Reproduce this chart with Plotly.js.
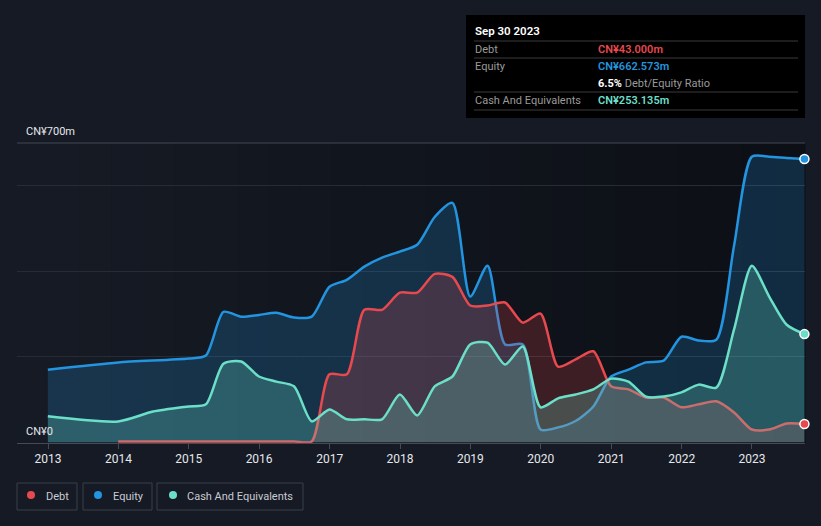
<!DOCTYPE html>
<html><head><meta charset="utf-8">
<script src="https://cdn.plot.ly/plotly-3.0.1.min.js"></script>
<style>html,body{margin:0;padding:0;background:#151a25;}#chart{width:821px;height:526px;}</style>
</head><body><div id="chart"></div><script>
// ---- data (CN¥ millions) ----
const equityDates = ['2012-12-31','2013-12-31','2014-12-31','2015-03-31','2015-06-30','2015-09-30','2015-12-31','2016-03-31','2016-06-30','2016-09-30','2016-12-31','2017-03-31','2017-06-30','2017-09-30','2017-12-31','2018-03-31','2018-06-30','2018-09-30','2018-12-31','2019-03-31','2019-06-30','2019-09-30','2019-12-31','2020-03-31','2020-06-30','2020-09-30','2020-12-31','2021-03-31','2021-06-30','2021-09-30','2021-12-31','2022-03-31','2022-06-30','2022-09-30','2022-12-31','2023-03-31','2023-06-30','2023-09-30'];
const equityValues = [170,187,196,203,305,294,298,303,292,294,364,380,411,432,446,462,527,560,341,413,229,229,30,35,50,84,154,170,187,191,247,238,240,460,668,668,665,662.573];

const debtDates = ['2013-12-31','2014-12-31','2015-12-31','2016-06-30','2016-09-30','2016-12-31','2017-03-31','2017-06-30','2017-09-30','2017-12-31','2018-03-31','2018-06-30','2018-09-30','2018-12-31','2019-03-31','2019-06-30','2019-09-30','2019-12-31','2020-03-31','2020-06-30','2020-09-30','2020-12-31','2021-03-31','2021-06-30','2021-09-30','2021-12-31','2022-03-31','2022-06-30','2022-09-30','2022-12-31','2023-03-31','2023-06-30','2023-09-30'];
const debtValues = [2,2,2,2,2,159,159,310,310,350,350,394,387,320,320,327,280,301,177,194,213,131,124,105,105,82,89,96,70,30,30,44,43];

const cashDates = ['2012-12-31','2013-12-31','2014-06-30','2014-12-31','2015-03-31','2015-06-30','2015-09-30','2015-12-31','2016-03-31','2016-06-30','2016-09-30','2016-12-31','2017-03-31','2017-06-30','2017-09-30','2017-12-31','2018-03-31','2018-06-30','2018-09-30','2018-12-31','2019-03-31','2019-06-30','2019-09-30','2019-12-31','2020-03-31','2020-06-30','2020-09-30','2020-12-31','2021-03-31','2021-06-30','2021-09-30','2021-12-31','2022-03-31','2022-06-30','2022-09-30','2022-12-31','2023-03-31','2023-06-30','2023-09-30'];
const cashValues = [61,49,72,84,89,184,189,154,142,131,49,77,54,54,54,112,63,131,154,229,233,182,224,82,103,112,124,149,142,107,107,117,135,128,264,413,341,275,253.135];

const seriesNames = ['Debt','Equity','Cash And Equivalents'];
const yTickLabels = ['CN¥0','CN¥700m'];
const tipTitle = 'Sep 30 2023';
const tipValues = ['CN¥43.000m','CN¥662.573m','6.5%','CN¥253.135m'];

// ---- styles ----
const C = {debt:'#e8494e', equity:'#2394df', cash:'#6cdfc9'};
const W = 821, H = 526, L = 17, R = 16, T = 143, B = 83;
const px = x => (x - L) / (W - L - R);
const py = y => (H - B - y) / (H - T - B);

function line(name, xs, ys, color, fill) {
  return {type:'scatter', mode:'lines', name, x:xs, y:ys,
    line:{color, width:2.5, shape:'spline', smoothing:0.7},
    fill:'tozeroy', fillcolor:fill, hoverinfo:'skip', showlegend:false};
}
function endDot(xs, ys, color) {
  return {type:'scatter', mode:'markers', x:[xs[xs.length-1]], y:[ys[ys.length-1]],
    marker:{color, size:9, line:{color:'#ffffff', width:1.5}}, cliponaxis:false,
    hoverinfo:'skip', showlegend:false};
}

const traces = [
  line(seriesNames[1], equityDates, equityValues, C.equity, 'rgba(35,148,223,0.22)'),
  line(seriesNames[0], debtDates, debtValues, C.debt, 'rgba(232,73,78,0.22)'),
  line(seriesNames[2], cashDates, cashValues, C.cash, 'rgba(108,223,201,0.25)'),
  endDot(equityDates, equityValues, C.equity),
  endDot(cashDates, cashValues, C.cash),
  endDot(debtDates, debtValues, C.debt)
];

const shapes = [];
// darkening gradient behind data span
const N = 24, x0 = 48, x1 = 805;
const c0 = [21,26,36], c1 = [12,15,21];
for (let i = 0; i < N; i++) {
  const t = i / (N - 1);
  const c = c0.map((v, k) => Math.round(v + (c1[k] - v) * t));
  shapes.push({type:'rect', xref:'paper', yref:'paper', layer:'below',
    x0:px(x0 + (x1 - x0) * i / N), x1:px(x0 + (x1 - x0) * (i + 1) / N + 0.5),
    y0:0, y1:1, line:{width:0}, fillcolor:`rgb(${c.join(',')})`});
}
// top 700 line
shapes.push({type:'line', xref:'paper', yref:'paper', x0:0, x1:1, y0:1, y1:1, line:{color:'#424852', width:1}});
// tooltip box
shapes.push({type:'rect', xref:'paper', yref:'paper', x0:px(466), x1:px(805), y0:py(15), y1:py(118), fillcolor:'#000000', line:{width:0}});
[41, 58, 92, 110].forEach(y => shapes.push({type:'line', xref:'paper', yref:'paper', x0:px(474), x1:px(798), y0:py(y), y1:py(y), line:{color:'#3a3a3a', width:1}}));
// legend boxes
const legBoxes = [[17,77],[83,152],[157,303]];
legBoxes.forEach(b => shapes.push({type:'rect', xref:'paper', yref:'paper', x0:px(b[0]), x1:px(b[1]), y0:py(483), y1:py(510), line:{color:'#3a404b', width:1}, fillcolor:'rgba(0,0,0,0)'}));
const legDots = [[31,C.debt],[98,C.equity],[173,C.cash]];
legDots.forEach(d => shapes.push({type:'circle', xref:'paper', yref:'paper', x0:px(d[0]-4), x1:px(d[0]+4), y0:py(491), y1:py(499), fillcolor:d[1], line:{width:0}}));

const F = 'Roboto, "Noto Sans", sans-serif';
const ann = (x, y, text, color, size, extra) => Object.assign({xref:'paper', yref:'paper', x:px(x), y:py(y), text, showarrow:false, xanchor:'left', yanchor:'middle', font:{family:F, color, size}}, extra || {});
const annotations = [
  ann(24, 131, yTickLabels[1], '#e6e8eb', 11),
  ann(24, 431, yTickLabels[0], '#e6e8eb', 11),
  ann(473, 31, tipTitle, '#ffffff', 11.5, {font:{family:F, color:'#ffffff', size:11.5, weight:600}}),
  ann(473, 49, seriesNames[0], '#9a9a9a', 11),
  ann(473, 66, 'Equity', '#9a9a9a', 11),
  ann(473, 100, seriesNames[2], '#9a9a9a', 11),
  ann(596, 49, tipValues[0], C.debt, 11, {font:{family:F, color:C.debt, size:11, weight:600}}),
  ann(596, 66, tipValues[1], C.equity, 11, {font:{family:F, color:C.equity, size:11, weight:600}}),
  ann(596, 83, '<b>' + tipValues[2] + '</b> <span style="color:#9a9a9a">Debt/Equity Ratio</span>', '#ffffff', 11),
  ann(596, 100, tipValues[3], C.cash, 11, {font:{family:F, color:C.cash, size:11, weight:600}}),
  ann(44, 496, seriesNames[0], '#c9ccd1', 11),
  ann(111, 496, seriesNames[1], '#c9ccd1', 11),
  ann(185, 496, seriesNames[2], '#c9ccd1', 11)
];

const layout = {
  width:W, height:H, margin:{l:L, r:R, t:T, b:B},
  paper_bgcolor:'#151a25', plot_bgcolor:'rgba(0,0,0,0)',
  showlegend:false, hovermode:false,
  font:{family:F, color:'#e6e8eb', size:12},
  xaxis:{type:'date', range:['2012-07-24','2023-10-03'], tick0:'2013-01-01', dtick:'M12', tickformat:'%Y',
    showgrid:false, zeroline:false, showline:true, linecolor:'#454b56', linewidth:1,
    ticks:'outside', ticklen:5, tickcolor:'#454b56', tickfont:{family:F, color:'#e6e8eb', size:12}, fixedrange:true},
  yaxis:{range:[-1.5,700], tickvals:[0,200,400,600], showticklabels:false, showgrid:true, gridcolor:'#262b35', gridwidth:1,
    zeroline:false, fixedrange:true},
  shapes, annotations
};

Plotly.newPlot('chart', traces, layout, {displayModeBar:false, staticPlot:true});
</script></body></html>
